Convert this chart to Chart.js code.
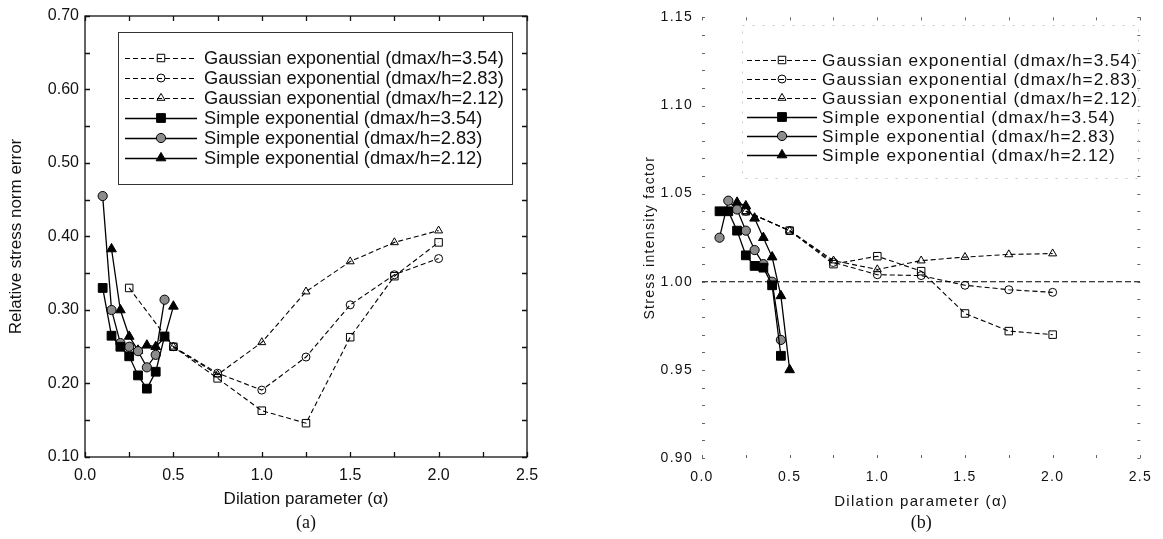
<!DOCTYPE html>
<html><head><meta charset="utf-8">
<script src="https://cdn.jsdelivr.net/npm/chart.js@4.4.1/dist/chart.umd.min.js"></script>
<style>
html,body{margin:0;padding:0;background:#fff;width:1163px;height:539px;overflow:hidden}
#wrapA{position:absolute;left:0;top:0;width:580px;height:539px}
#wrapB{position:absolute;left:580px;top:0;width:583px;height:539px}
canvas{display:block}
</style></head><body>
<div id="wrapA"><canvas id="cA" width="580" height="539" style="width:580px;height:539px"></canvas></div>
<div id="wrapB"><canvas id="cB" width="583" height="539" style="width:583px;height:539px"></canvas></div>
<script>
// ---------------- DATA ----------------
const seriesLabels = [
  'Gaussian exponential (dmax/h=3.54)',
  'Gaussian exponential (dmax/h=2.83)',
  'Gaussian exponential (dmax/h=2.12)',
  'Simple exponential (dmax/h=3.54)',
  'Simple exponential (dmax/h=2.83)',
  'Simple exponential (dmax/h=2.12)'
];
const xTicks = [0.0, 0.5, 1.0, 1.5, 2.0, 2.5];
const yTicksA = [0.10, 0.20, 0.30, 0.40, 0.50, 0.60, 0.70];
const yTicksB = [0.90, 0.95, 1.00, 1.05, 1.10, 1.15];

// (a) Relative stress norm error
const aGauss354X = [0.25, 0.50, 0.75, 1.00, 1.25, 1.50, 1.75, 2.00];
const aGauss354Y = [0.330, 0.250, 0.207, 0.163, 0.146, 0.263, 0.346, 0.392];
const aGaussX    = [0.50, 0.75, 1.00, 1.25, 1.50, 1.75, 2.00];
const aGauss283Y = [0.250, 0.214, 0.191, 0.236, 0.307, 0.348, 0.370];
const aGauss212Y = [0.250, 0.212, 0.256, 0.325, 0.366, 0.392, 0.408];
const aSimpleX    = [0.10, 0.15, 0.20, 0.25, 0.30, 0.35, 0.40, 0.45];
const aSimple354Y = [0.330, 0.265, 0.250, 0.237, 0.211, 0.193, 0.216, 0.264];
const aSimple283Y = [0.455, 0.300, 0.255, 0.250, 0.244, 0.222, 0.239, 0.314];
const aSimple212X = [0.15, 0.20, 0.25, 0.30, 0.35, 0.40, 0.45, 0.50];
const aSimple212Y = [0.383, 0.300, 0.264, 0.245, 0.252, 0.250, 0.262, 0.305];

// (b) Stress intensity factor
const bGaussX    = [0.25, 0.50, 0.75, 1.00, 1.25, 1.50, 1.75, 2.00];
const bGauss354Y = [1.040, 1.029, 1.010, 1.0145, 1.006, 0.982, 0.972, 0.970];
const bGauss283Y = [1.040, 1.029, 1.011, 1.004, 1.0035, 0.998, 0.9955, 0.994];
const bGauss212Y = [1.040, 1.029, 1.012, 1.007, 1.012, 1.014, 1.0155, 1.016];
const bSimpleX    = [0.10, 0.15, 0.20, 0.25, 0.30, 0.35, 0.40, 0.45];
const bSimple354Y = [1.040, 1.040, 1.029, 1.015, 1.009, 1.008, 0.998, 0.958];
const bSimple283Y = [1.025, 1.046, 1.041, 1.029, 1.018, 1.010, 1.000, 0.967];
const bSimple212X = [0.20, 0.25, 0.30, 0.35, 0.40, 0.45, 0.50];
const bSimple212Y = [1.045, 1.043, 1.036, 1.025, 1.014, 0.992, 0.950];
const bRefX = [0.0, 2.5];
const bRefY = [1.00, 1.00];

// ---------------- HELPERS ----------------
const pts = (xs, ys) => xs.map((x, i) => ({x: x, y: ys[i]}));
const FONT = "'Liberation Sans', Arial, 'DejaVu Sans', sans-serif";
const SERIF = "'Liberation Serif', 'DejaVu Serif', serif";

const styles = [
  {dash:[5,3], style:'rect',     r:5.3, fill:'rgba(0,0,0,0)', w:1.1},
  {dash:[5,3], style:'circle',   r:4.0, fill:'rgba(0,0,0,0)', w:1.1},
  {dash:[5,3], style:'triangle', r:4.6, fill:'rgba(0,0,0,0)', w:1.1},
  {dash:[],    style:'rect',     r:6.2, fill:'#000',          w:1.3},
  {dash:[],    style:'circle',   r:4.6, fill:'#8c8c8c',       w:1.3},
  {dash:[],    style:'triangle', r:5.6, fill:'#000',          w:1.3}
];

function makeDS(idx, data) {
  const s = styles[idx];
  return {
    label: seriesLabels[idx], data: data, inLegend: true,
    borderColor:'#000', borderWidth:s.w, borderDash:s.dash, tension:0,
    pointStyle:s.style, pointRadius:s.r, pointBackgroundColor:s.fill,
    pointBorderColor:'#000', pointBorderWidth:1, pointHoverRadius:s.r, fill:false
  };
}

function drawMarker(ctx, style, x, y, r, fill) {
  ctx.save();
  ctx.setLineDash([]);
  ctx.lineWidth = 1;
  ctx.strokeStyle = '#000';
  ctx.fillStyle = fill;
  ctx.beginPath();
  if (style === 'rect') {
    const s = r * Math.SQRT1_2;
    ctx.rect(x - s, y - s, 2 * s, 2 * s);
  } else if (style === 'circle') {
    ctx.arc(x, y, r, 0, Math.PI * 2);
  } else {
    ctx.moveTo(x, y - r);
    ctx.lineTo(x + r * Math.sin(Math.PI * 2 / 3), y - r * Math.cos(Math.PI * 2 / 3));
    ctx.lineTo(x + r * Math.sin(Math.PI * 4 / 3), y - r * Math.cos(Math.PI * 4 / 3));
    ctx.closePath();
  }
  ctx.fill();
  ctx.stroke();
  ctx.restore();
}

const spacingPlugin = {
  id: 'spacing',
  beforeUpdate(chart, a, o) { chart.ctx.letterSpacing = o.ls || '0px'; },
  beforeLayout(chart, a, o) { chart.ctx.letterSpacing = o.ls || '0px'; },
  beforeDraw(chart, a, o) { chart.ctx.letterSpacing = o.ls || '0px'; }
};

const framePlugin = {
  id: 'frame',
  afterDatasetsDraw(chart, args, o) {
    const {ctx, chartArea: a, scales: {x, y}} = chart;
    ctx.save();
    ctx.setLineDash([]);
    ctx.strokeStyle = o.color;
    ctx.lineWidth = o.width;
    if (o.box) ctx.strokeRect(a.left, a.top, a.right - a.left, a.bottom - a.top);
    ctx.beginPath();
    const nx = Math.round((x.max - x.min) / o.xStep);
    for (let i = 0; i <= nx; i++) {
      const px = Math.round(x.getPixelForValue(x.min + i * o.xStep)) + 0.5;
      ctx.moveTo(px, a.bottom); ctx.lineTo(px, a.bottom - o.len);
      ctx.moveTo(px, a.top); ctx.lineTo(px, a.top + o.len);
    }
    const ny = Math.round((y.max - y.min) / o.yStep);
    for (let i = 0; i <= ny; i++) {
      const py = Math.round(y.getPixelForValue(y.min + i * o.yStep)) + 0.5;
      ctx.moveTo(a.left, py); ctx.lineTo(a.left + o.len, py);
      ctx.moveTo(a.right, py); ctx.lineTo(a.right - o.len, py);
    }
    ctx.stroke();
    ctx.restore();
  }
};

const legendPlugin = {
  id: 'inlegend',
  afterDraw(chart, args, o) {
    const ctx = chart.ctx;
    ctx.save();
    if (o.box) {
      ctx.setLineDash(o.boxDash || []);
      ctx.strokeStyle = o.boxColor;
      ctx.lineWidth = 1;
      ctx.strokeRect(o.box[0] + 0.5, o.box[1] + 0.5, o.box[2] - o.box[0], o.box[3] - o.box[1]);
    }
    const items = chart.data.datasets.filter(d => d.inLegend);
    // fit font size so the first label spans the target width (letter spacing included)
    ctx.letterSpacing = '0px';
    ctx.font = '100px ' + FONT;
    const w100 = ctx.measureText(items[0].label).width;
    const n = items[0].label.length;
    const fs = 100 * (o.textW - n * (o.lsPx || 0)) / w100;
    ctx.letterSpacing = (o.lsPx || 0) + 'px';
    ctx.font = fs.toFixed(2) + 'px ' + FONT;
    ctx.fillStyle = '#111';
    ctx.textBaseline = 'middle';
    ctx.textAlign = 'left';
    items.forEach((d, i) => {
      const yy = o.y0 + i * o.dy;
      ctx.save();
      ctx.strokeStyle = '#000';
      ctx.lineWidth = d.borderWidth;
      ctx.setLineDash(d.borderDash || []);
      ctx.beginPath();
      ctx.moveTo(o.lx1, yy + 0.5); ctx.lineTo(o.lx2, yy + 0.5);
      ctx.stroke();
      ctx.restore();
      drawMarker(ctx, d.pointStyle, o.mx, yy, d.pointRadius, d.pointBackgroundColor);
      ctx.fillText(d.label, o.tx, yy + 1);
    });
    ctx.restore();
  }
};

const captionPlugin = {
  id: 'caption',
  afterDraw(chart, args, o) {
    const {ctx, chartArea: a} = chart;
    ctx.save();
    ctx.letterSpacing = '0px';
    ctx.font = o.size + 'px ' + SERIF;
    ctx.fillStyle = '#111';
    ctx.textAlign = 'center';
    ctx.textBaseline = 'middle';
    ctx.fillText(o.text, (a.left + a.right) / 2, o.y);
    ctx.restore();
  }
};

function makeChart(canvasId, cfg) {
  return new Chart(document.getElementById(canvasId), {
    type: 'line',
    data: { datasets: cfg.datasets },
    options: {
      responsive: false, animation: false, devicePixelRatio: 1,
      layout: { padding: cfg.pad },
      plugins: {
        legend: {display: false}, tooltip: {enabled: false}, title: {display: false},
        spacing: {ls: cfg.ls},
        frame: cfg.frame,
        inlegend: cfg.legend,
        caption: cfg.caption
      },
      scales: {
        x: {
          type: 'linear', min: 0, max: 2.5,
          afterFit: s => { s.height = cfg.xH; },
          afterBuildTicks: s => { s.ticks = xTicks.map(v => ({value: v})); },
          grid: {display: false, drawTicks: false}, border: {display: false},
          ticks: { padding: cfg.xPad, color: '#111', font: {family: FONT, size: cfg.tickSize},
                   callback: v => Number(v).toFixed(1), maxRotation: 0, autoSkip: false },
          title: { display: true, text: 'Dilation parameter (\u03B1)', color: '#111',
                   font: {family: FONT, size: cfg.titleSize}, padding: {top: 0, bottom: cfg.xTitlePad} }
        },
        y: {
          type: 'linear', min: cfg.yMin, max: cfg.yMax,
          afterFit: s => { s.width = cfg.yW; },
          afterBuildTicks: s => { s.ticks = cfg.yTicks.map(v => ({value: v})); },
          grid: {display: false, drawTicks: false}, border: {display: false},
          ticks: { padding: cfg.yPad, color: '#111', font: {family: FONT, size: cfg.tickSize},
                   callback: v => Number(v).toFixed(2), autoSkip: false },
          title: { display: true, text: cfg.yTitle, color: '#111',
                   font: {family: FONT, size: cfg.yTitleSize}, padding: {top: cfg.yTitlePad, bottom: 0} }
        }
      }
    },
    plugins: [spacingPlugin, framePlugin, legendPlugin, captionPlugin]
  });
}

// ---------------- CHART (a) ----------------
makeChart('cA', {
  datasets: [
    makeDS(0, pts(aGauss354X, aGauss354Y)),
    makeDS(1, pts(aGaussX, aGauss283Y)),
    makeDS(2, pts(aGaussX, aGauss212Y)),
    makeDS(3, pts(aSimpleX, aSimple354Y)),
    makeDS(4, pts(aSimpleX, aSimple283Y)),
    makeDS(5, pts(aSimple212X, aSimple212Y))
  ],
  pad: {left: 0, top: 16, right: 53, bottom: 0},
  xH: 82, yW: 85, xPad: 9, yPad: 6, tickSize: 16, titleSize: 17,
  xTitlePad: 29, yTitle: 'Relative stress norm error', yTitleSize: 17, yTitlePad: 6,
  yMin: 0.10, yMax: 0.70, yTicks: yTicksA, ls: '0px',
  frame: {box: true, color: '#111', width: 1.3, len: 5, xStep: 0.25, yStep: 0.05},
  legend: {box: [118, 32, 512, 184], boxColor: '#333', boxDash: [],
           y0: 58, dy: 20, lx1: 125, lx2: 197, mx: 161, tx: 204, textW: 300, lsPx: 0},
  caption: {text: '(a)', y: 523, size: 18}
});

// ---------------- CHART (b) ----------------
const refDS = {
  label: 'ref', data: pts(bRefX, bRefY), inLegend: false,
  borderColor: '#000', borderWidth: 1.2, borderDash: [6, 3], pointRadius: 0, pointHoverRadius: 0, fill: false
};
makeChart('cB', {
  datasets: [
    makeDS(0, pts(bGaussX, bGauss354Y)),
    makeDS(1, pts(bGaussX, bGauss283Y)),
    makeDS(2, pts(bGaussX, bGauss212Y)),
    makeDS(3, pts(bSimpleX, bSimple354Y)),
    makeDS(4, pts(bSimpleX, bSimple283Y)),
    makeDS(5, pts(bSimple212X, bSimple212Y)),
    refDS
  ],
  pad: {left: 0, top: 17, right: 21, bottom: 0},
  xH: 81, yW: 122, xPad: 11, yPad: 9, tickSize: 14, titleSize: 15,
  xTitlePad: 28, yTitle: 'Stress intensity factor', yTitleSize: 14, yTitlePad: 62,
  yMin: 0.90, yMax: 1.15, yTicks: yTicksB, ls: '1.3px',
  frame: {box: false, color: '#666', width: 1, len: 3, xStep: 0.25, yStep: 0.01},
  legend: {box: [162, 25, 558, 178], boxColor: '#c8c8c8', boxDash: [2, 8],
           y0: 60, dy: 19, lx1: 167, lx2: 237, mx: 202, tx: 242, textW: 316, lsPx: 1},
  caption: {text: '(b)', y: 523, size: 18}
});
</script>
</body></html>
